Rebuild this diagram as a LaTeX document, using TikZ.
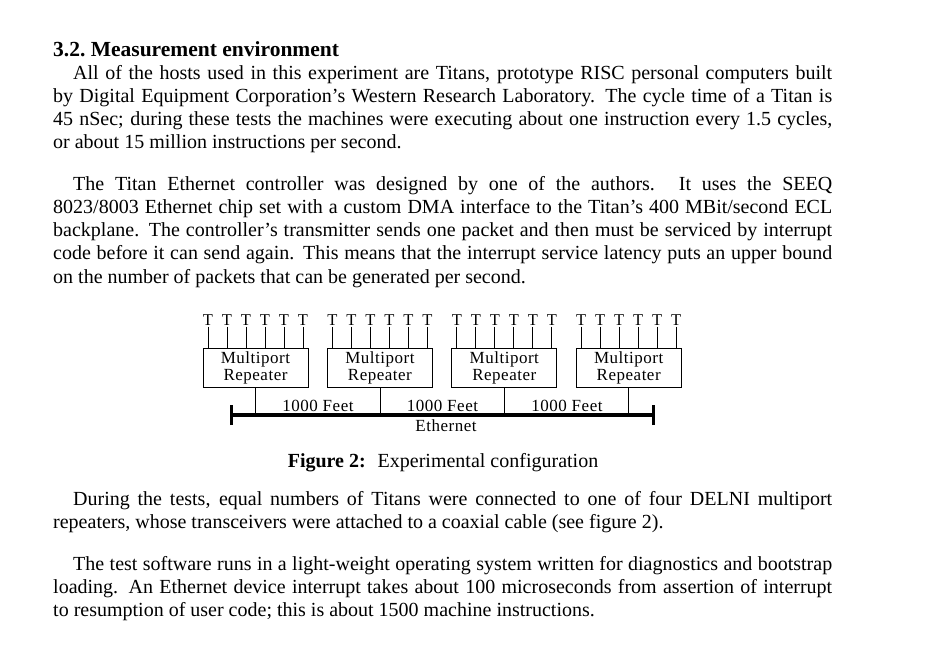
\documentclass[tikz,border=0pt]{standalone}
\usepackage{fontspec}
\setmainfont{Liberation Serif}
\newfontfamily\figfont[LetterSpace=3]{Liberation Serif}

\begin{document}
\begin{tikzpicture}[x=1pt, y=-1pt,
        para/.style={anchor=base west, inner sep=0pt, text width=779pt, align=justify, font=\fontsize{20}{23.3}\selectfont},
        repeater/.style={draw, line width=0.9pt, shape=rectangle, minimum width=105pt, minimum height=39pt, inner sep=0pt, align=center, font=\figfont\fontsize{17}{17}\selectfont},
        tlabel/.style={inner sep=1pt, font=\figfont\fontsize{16.5}{16.5}\selectfont},
        figlabel/.style={inner sep=0pt, font=\figfont\fontsize{17}{17}\selectfont}
    ]
    \def\boxdistance{124.4}
    \def\tdistance{19}
    \def\cableY{415}
    \def\tY{320}
    \fill[white] (0,0) rectangle (926,654);
    \useasboundingbox (0,0) rectangle (926,654);
    % text above the figure
    \node[anchor=base west, inner sep=0pt, font=\fontsize{21.5}{24}\selectfont\bfseries] (head) at (53,56) {3.2.\ Measurement environment};
    \node[para] (par1) at (53,79) {\hspace*{20pt}All of the hosts used in this experiment are Titans, prototype RISC personal computers built\linebreak
        by Digital Equipment Corporation's Western Research Laboratory.  The cycle time of a Titan is\linebreak
        45 nSec; during these tests the machines were executing about one instruction every 1.5 cycles,\linebreak
        or about 15 million instructions per second.};
    \node[para] (par2) at (53,190) {\hspace*{20pt}The Titan Ethernet controller was designed by one of the authors.  It uses the SEEQ\linebreak
        8023/8003 Ethernet chip set with a custom DMA interface to the Titan's 400 MBit/second ECL\linebreak
        backplane.  The controller's transmitter sends one packet and then must be serviced by interrupt\linebreak
        code before it can send again.  This means that the interrupt service latency puts an upper bound\linebreak
        on the number of packets that can be generated per second.};
    % repeaters
    \node[repeater] (R1) at (255.5, 367.5) {Multiport\\Repeater};
    \node[repeater] (R2) at ({255.5+\boxdistance}, 367.5) {Multiport\\Repeater};
    \node[repeater] (R3) at ({255.5+2*\boxdistance}, 367.5) {Multiport\\Repeater};
    \node[repeater] (R4) at ({255.5+3*\boxdistance}, 367.5) {Multiport\\Repeater};
    % titans on each repeater
    \foreach \r in {1,...,4} {
        \foreach \t in {1,...,6} {
            \node[tlabel] (T\r\t) at ({255.5+(\r-1)*\boxdistance-47.5+(\t-1)*\tdistance}, \tY) {T};
            \draw[line width=0.8pt] (T\r\t) -- (T\r\t |- R\r.north);
        }
    }
    % ethernet cable
    \coordinate (eL) at (231, \cableY);
    \coordinate (eR) at (653, \cableY);
    \draw[line width=3.5pt] (eL) -- (eR);
    \draw[line width=3pt] ([yshift=-10pt]eL) -- ([yshift=10pt]eL);
    \draw[line width=3pt] ([yshift=-10pt]eR) -- ([yshift=10pt]eR);
    \draw[line width=0.8pt] (R1.south) -- (R1.south |- eL);
    \draw[line width=0.8pt] (R2.south) -- (R2.south |- eL);
    \draw[line width=0.8pt] (R3.south) -- (R3.south |- eL);
    \draw[line width=0.8pt] (R4.south) -- (R4.south |- eL);
    \node[figlabel, anchor=base] (feet1) at (318, 411) {1000 Feet};
    \node[figlabel, anchor=base] (feet2) at (442.5, 411) {1000 Feet};
    \node[figlabel, anchor=base] (feet3) at (567, 411) {1000 Feet};
    \node[figlabel] (ether) at (446, 426) {Ethernet};
    \node[anchor=base, inner sep=0pt, font=\fontsize{20}{24}\selectfont] (caption) at (443, 467) {\textbf{Figure 2:}\hspace{12pt}Experimental configuration};
    % text below the figure
    \node[para] (par3) at (53,505) {\hspace*{20pt}During the tests, equal numbers of Titans were connected to one of four DELNI multiport\linebreak
        repeaters, whose transceivers were attached to a coaxial cable (see figure 2).};
    \node[para] (par4) at (53,570) {\hspace*{20pt}The test software runs in a light-weight operating system written for diagnostics and bootstrap\linebreak
        loading.  An Ethernet device interrupt takes about 100 microseconds from assertion of interrupt\linebreak
        to resumption of user code; this is about 1500 machine instructions.};
\end{tikzpicture}
\end{document}
